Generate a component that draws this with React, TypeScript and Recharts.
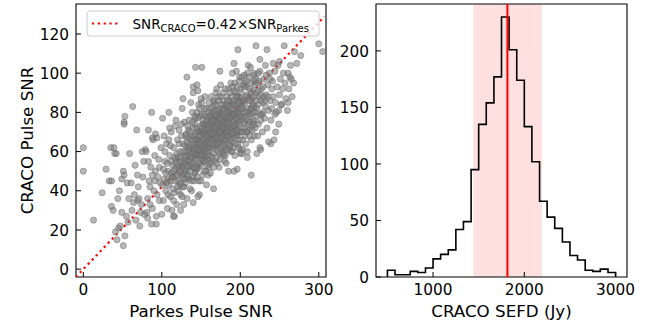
import React from "react";
import {
    ComposedChart,
    Scatter,
    Line,
    XAxis,
    YAxis,
    ReferenceArea,
    ReferenceLine
} from "recharts";

const FONT = "'DejaVu Sans', sans-serif";

// Parkes SNR vs CRACO SNR
const pulsePairs: [number, number][] = [
    // sparse low end
    [0, 62], [0, 50], [13, 25], [24, 39], [29, 51], [33, 45], [36, 45], [35, 62], [39, 62], [40, 59],
    [42, 59], [36, 32], [38, 30], [44, 36], [41, 19], [45, 21], [43, 15], [51, 12], [49, 46], [51, 50],
    [52, 48], [53, 78], [52, 75], [52, 74], [58, 36], [59, 59], [47, 22], [55, 27], [46, 40], [57, 24],
    [49, 29], [56, 44], [53, 17],
    // 60-80
    [63, 83], [68, 71], [62, 30], [65, 38], [67, 25], [69, 35], [70, 42], [72, 22], [74, 33], [76, 47],
    [78, 28], [61, 44], [66, 53], [71, 36], [77, 55], [79, 61], [73, 29], [69, 48], [75, 60], [64, 34],
    // 80-100
    [87, 80], [87, 23], [83, 71], [82, 26], [88, 67], [92, 69], [93, 23], [82, 36], [84, 45], [86, 52],
    [88, 31], [90, 40], [91, 58], [93, 27], [95, 47], [97, 35], [99, 62], [81, 29], [83, 55], [85, 42],
    [89, 66], [92, 50], [94, 38], [96, 56], [98, 44], [100, 28], [85, 33], [91, 45], [97, 52], [80, 60],
    [94, 67], [88, 48],
    // 100-120
    [101, 77], [109, 80], [118, 76], [116, 27], [115, 27], [102, 35], [103, 46], [104, 55], [105, 40], [106, 64],
    [107, 31], [108, 50], [109, 43], [110, 58], [111, 37], [112, 70], [113, 47], [114, 53], [115, 62], [116, 39],
    [117, 45], [118, 56], [119, 33], [120, 66], [102, 51], [104, 60], [106, 44], [108, 38], [110, 72], [112, 49],
    [114, 41], [116, 57], [118, 48], [120, 42], [103, 68], [107, 54], [111, 63], [115, 35], [119, 59], [105, 49],
    [109, 66], [113, 30], [117, 73], [101, 43],
    // 120-140
    [124, 30], [132, 98], [127, 87], [140, 34], [140, 93], [140, 90], [121, 45], [122, 52], [123, 60], [124, 38],
    [125, 68], [126, 48], [127, 55], [128, 42], [129, 75], [130, 63], [131, 50], [132, 36], [133, 58], [134, 71],
    [135, 46], [136, 66], [137, 53], [138, 40], [139, 80], [140, 61], [121, 57], [122, 71], [123, 43], [125, 52],
    [126, 37], [127, 64], [128, 49], [129, 58], [130, 44], [131, 69], [132, 55], [133, 47], [134, 61], [135, 76],
    [136, 41], [137, 59], [138, 68], [139, 52], [140, 47], [122, 64], [124, 49], [126, 82], [128, 33], [130, 55],
    [132, 65], [134, 52], [136, 58], [138, 45], [140, 72], [123, 55], [127, 46], [131, 60], [135, 63], [139, 57],
    [125, 74], [129, 51], [133, 67], [137, 85],
    // 140-160
    [143, 103], [145, 94], [151, 103], [148, 38], [146, 37], [141, 55], [142, 63], [143, 50], [144, 72], [145, 58],
    [146, 66], [147, 45], [148, 78], [149, 61], [150, 53], [151, 70], [152, 48], [153, 64], [154, 82], [155, 57],
    [156, 68], [157, 43], [158, 75], [159, 60], [160, 52], [141, 68], [142, 49], [143, 77], [144, 59], [145, 66],
    [146, 52], [147, 84], [148, 62], [149, 70], [150, 45], [151, 58], [152, 74], [153, 55], [154, 67], [155, 88],
    [156, 50], [157, 63], [158, 71], [159, 56], [160, 80], [141, 61], [143, 66], [145, 51], [147, 70], [149, 55],
    [151, 79], [153, 60], [155, 72], [157, 65], [159, 48], [142, 74], [144, 64], [146, 77], [148, 54], [150, 68],
    [152, 62], [154, 57], [156, 74], [158, 64], [160, 69], [141, 45], [144, 52], [147, 60], [150, 87], [153, 70],
    [156, 61], [159, 67], [143, 58], [146, 91], [149, 64], [152, 56], [155, 64], [158, 58],
    // 160-180
    [166, 41], [161, 62], [162, 75], [163, 55], [164, 68], [165, 83], [166, 59], [167, 72], [168, 64], [169, 90],
    [170, 57], [171, 77], [172, 69], [173, 52], [174, 80], [175, 65], [176, 73], [177, 60], [178, 86], [179, 70],
    [180, 62], [161, 71], [162, 58], [163, 79], [164, 63], [165, 74], [166, 67], [167, 55], [168, 81], [169, 70],
    [170, 75], [171, 63], [172, 88], [173, 72], [174, 59], [175, 77], [176, 68], [177, 82], [178, 65], [179, 76],
    [180, 71], [161, 54], [163, 66], [165, 62], [167, 78], [169, 61], [171, 70], [173, 65], [175, 94], [177, 73],
    [179, 58], [162, 82], [164, 72], [166, 76], [168, 69], [170, 66], [172, 60], [174, 74], [176, 79], [178, 72],
    [180, 84], [161, 67], [164, 57], [167, 85], [170, 92], [173, 79], [176, 62], [179, 66], [163, 73], [168, 75],
    [172, 78], [177, 67], [180, 55], [174, 101], [185, 50],
    // 180-200
    [192, 105], [197, 112], [196, 51], [192, 50], [181, 76], [182, 66], [183, 88], [184, 73], [185, 61], [186, 80],
    [187, 70], [188, 95], [189, 77], [190, 65], [191, 84], [192, 72], [193, 58], [194, 90], [195, 79], [196, 68],
    [197, 86], [198, 75], [199, 98], [200, 70], [181, 69], [182, 83], [183, 75], [184, 64], [185, 92], [186, 71],
    [187, 79], [188, 67], [189, 85], [190, 74], [191, 62], [192, 91], [193, 80], [194, 72], [195, 68], [196, 88],
    [197, 76], [198, 82], [199, 66], [200, 87], [181, 58], [183, 70], [185, 78], [187, 63], [189, 72], [191, 78],
    [193, 69], [195, 101], [197, 64], [199, 79], [182, 74], [184, 81], [186, 86], [188, 60], [190, 81], [192, 67],
    [194, 77], [196, 82], [198, 70], [200, 92], [185, 68], [190, 100], [195, 74], [182, 54], [200, 59], [200, 61],
    // 200-220
    [214, 48], [209, 57], [202, 59], [220, 114], [201, 78], [202, 85], [203, 72], [204, 94], [205, 80], [206, 68],
    [207, 88], [208, 76], [209, 100], [210, 82], [211, 71], [212, 92], [213, 79], [214, 66], [215, 87], [216, 75],
    [217, 96], [218, 83], [219, 72], [220, 90], [201, 90], [202, 70], [203, 82], [204, 77], [205, 99], [206, 85],
    [207, 64], [208, 93], [209, 79], [210, 74], [211, 88], [212, 81], [213, 103], [214, 86], [215, 73], [216, 91],
    [217, 80], [218, 68], [219, 94], [220, 78], [203, 61], [206, 95], [209, 60], [212, 75], [215, 83], [218, 99],
    [204, 86], [208, 70], [216, 84], [210, 104],
    // 220-240
    [226, 61], [225, 62], [234, 112], [221, 82], [222, 95], [223, 74], [224, 88], [225, 101], [226, 79], [227, 92],
    [228, 70], [229, 85], [230, 97], [231, 77], [232, 104], [233, 89], [234, 72], [235, 94], [236, 81], [237, 100],
    [238, 86], [239, 76], [240, 92], [222, 68], [224, 96], [226, 86], [228, 79], [230, 88], [232, 83], [236, 65],
    [238, 97], [240, 82], [225, 107], [233, 99], [221, 59],
    // 240-260
    [243, 66], [245, 70], [249, 74], [244, 79], [249, 81], [253, 84], [256, 114], [241, 96], [242, 88], [244, 101],
    [245, 85], [247, 93], [248, 104], [250, 89], [251, 97], [252, 84], [254, 92], [255, 100], [257, 95], [258, 87],
    [242, 105], [246, 80], [250, 106], [239, 64], [260, 81],
    // sparse high end
    [261, 100], [265, 97], [268, 95], [272, 105], [269, 111], [277, 109], [300, 115], [305, 111], [262, 92],
    [264, 104], [266, 88], [263, 98], [261, 85],
    // dense core (overplotted region)
    [150, 65], [152, 67], [155, 69], [157, 71], [160, 66], [162, 70], [165, 72], [167, 68], [170, 73], [172, 71],
    [175, 74], [177, 76], [180, 74], [182, 77], [185, 75], [187, 78], [190, 76], [192, 79], [195, 77], [197, 80],
    [200, 78], [175, 70], [178, 68], [181, 72], [184, 70], [186, 74], [189, 69], [191, 73], [194, 71], [171, 67],
    [168, 63], [164, 66], [161, 64], [158, 62], [154, 61], [151, 63], [147, 64], [144, 62], [141, 59], [138, 57],
    [135, 55], [132, 53], [129, 54], [126, 52], [123, 50], [120, 48], [117, 51], [114, 47], [111, 45], [108, 46],
    [146, 70], [149, 73], [153, 76], [156, 78], [159, 74], [163, 77], [166, 80], [169, 78], [173, 82], [176, 84],
    [179, 81], [183, 84], [186, 83], [189, 88], [192, 86], [195, 84], [198, 88], [202, 83], [205, 86], [208, 89],
    [211, 86], [214, 90], [217, 88], [220, 86], [223, 91], [226, 89], [229, 93], [205, 75], [208, 80], [211, 78],
    [214, 82], [217, 76], [220, 80], [223, 84], [226, 76], [229, 80], [232, 86], [235, 88], [203, 66], [206, 72],
    [209, 70], [212, 68], [215, 71], [218, 74], [154, 50], [158, 53], [162, 49], [166, 52], [170, 54], [174, 56],
    [178, 59], [182, 61], [186, 63], [190, 60], [194, 64], [198, 62], [137, 62], [140, 66], [143, 69], [146, 58],
    [149, 60], [152, 58], [155, 55], [158, 60], [133, 62], [130, 58], [127, 60], [124, 57], [121, 53], [118, 54],
    [115, 50], [112, 55], [130, 68], [133, 73], [136, 70], [139, 75], [142, 78], [145, 80], [148, 82], [151, 85],
    [154, 79], [157, 82], [160, 85], [163, 88], [166, 86], [169, 84], [172, 86], [175, 88], [178, 90], [181, 92],
    [184, 86], [187, 90], [190, 93], [193, 95], [196, 93], [199, 96], [202, 98], [205, 93], [208, 96], [211, 98],
    [214, 95], [217, 100], [220, 97], [223, 100], [168, 72], [171, 74], [174, 70], [177, 72], [180, 78], [183, 80],
    [186, 77], [189, 82], [192, 84], [195, 88], [198, 85], [201, 82], [157, 68], [160, 72], [163, 69], [166, 64],
    [169, 67], [172, 64], [175, 67], [178, 63], [181, 66], [184, 68], [187, 66], [190, 70], [193, 73], [196, 71],
    [199, 74], [202, 76], [162, 78], [165, 76], [168, 79], [171, 81], [174, 77], [177, 79], [180, 80], [148, 68],
    [151, 72], [154, 74], [157, 76], [160, 78], [140, 64], [143, 56], [146, 61], [149, 58], [136, 50], [133, 48],
    [139, 54], [142, 52], [145, 47], [127, 42], [130, 46], [124, 44], [121, 40]
];

// dotted fit line SNR_CRACO = 0.42 x SNR_Parkes, end points
const fitLine = [
    { x: -9.5, y: -4.0 },
    { x: 307, y: 128.9 }
];

const snrXTicks = [0, 100, 200, 300];
const snrYTicks = [0, 20, 40, 60, 80, 100, 120];

// CRACO SEFD histogram (30 bins, 500-3000 Jy)
const sefdBinEdges = [
    500, 583, 667, 750, 833, 917, 1000, 1083, 1167, 1250, 1333, 1417, 1500, 1583, 1667, 1750,
    1833, 1917, 2000, 2083, 2167, 2250, 2333, 2417, 2500, 2583, 2667, 2750, 2833, 2917, 3000
];
const sefdCounts = [
    6, 2, 2, 5, 4, 8, 16, 20, 24, 42, 49, 95, 135, 154, 177, 230,
    201, 174, 133, 102, 67, 53, 43, 31, 19, 15, 6, 5, 7, 4
];
const sefdMedian = 1815;
const sefdBand = [1440, 2194];
const sefdXTicks = [1000, 2000, 3000];
const sefdYTicks = [0, 50, 100, 150, 200];

const scatterData = pulsePairs.map(([x, y]) => ({ x, y }));

// step outline like matplotlib histtype="step"
const stepData = [
    { x: sefdBinEdges[0], y: 0 },
    ...sefdCounts.map((c, i) => ({ x: sefdBinEdges[i], y: c })),
    { x: sefdBinEdges[sefdBinEdges.length - 1], y: sefdCounts[sefdCounts.length - 1] },
    { x: sefdBinEdges[sefdBinEdges.length - 1], y: 0 }
];

const XTick = ({ x, y, payload }: any) => (
    <g>
        <line x1={x} y1={y} x2={x} y2={y - 5} stroke="#000" strokeWidth={1} />
        <text x={x} y={y + 17.5} textAnchor="middle" fontSize={15.3} fontFamily={FONT} fill="#000">
            {payload.value}
        </text>
    </g>
);

const YTick = ({ x, y, payload }: any) => (
    <g>
        <line x1={x} y1={y} x2={x + 5} y2={y} stroke="#000" strokeWidth={1} />
        <text x={x - 7} y={y + 5.6} textAnchor="end" fontSize={15.3} fontFamily={FONT} fill="#000">
            {payload.value}
        </text>
    </g>
);

const GrayDot = (props: any) => (
    <circle
        cx={props.cx}
        cy={props.cy}
        r={3.1}
        fill="#7a7a7a"
        fillOpacity={0.55}
        stroke="#666666"
        strokeOpacity={0.55}
        strokeWidth={0.8}
    />
);

const SNR_X = [-9.3, 309.2];
const SNR_Y = [-4, 135.3];
const SEFD_X = [375, 3125];
const SEFD_Y = [0, 241.5];

export default function App() {
    return (
        <div style={{ position: "absolute", left: 0, top: 0, width: 650, height: 326, background: "#fff" }}>
            {/* left: SNR comparison */}
            <div style={{ position: "absolute", left: 0, top: 0 }}>
                <ComposedChart width={340} height={326} margin={{ top: 4, right: 14, bottom: 0, left: 0 }}>
                    <XAxis
                        type="number"
                        dataKey="x"
                        domain={SNR_X}
                        ticks={snrXTicks}
                        allowDataOverflow
                        height={49}
                        tickSize={0}
                        tickMargin={0}
                        axisLine={false}
                        tickLine={false}
                        tick={<XTick />}
                        interval={0}
                    />
                    <YAxis
                        type="number"
                        dataKey="y"
                        domain={SNR_Y}
                        ticks={snrYTicks}
                        allowDataOverflow
                        width={76}
                        tickSize={0}
                        tickMargin={0}
                        axisLine={false}
                        tickLine={false}
                        tick={<YTick />}
                        interval={0}
                    />
                    <Scatter data={scatterData} shape={<GrayDot />} isAnimationActive={false} />
                    <Line
                        data={fitLine}
                        dataKey="y"
                        type="linear"
                        stroke="#ff0000"
                        strokeWidth={2.2}
                        strokeDasharray="2.2 3.6"
                        dot={false}
                        activeDot={false}
                        isAnimationActive={false}
                    />
                    <ReferenceArea
                        x1={SNR_X[0]}
                        x2={SNR_X[1]}
                        y1={SNR_Y[0]}
                        y2={SNR_Y[1]}
                        fill="none"
                        fillOpacity={0}
                        stroke="#000"
                        strokeWidth={1.1}
                        ifOverflow="visible"
                    />
                </ComposedChart>
            </div>

            {/* right: SEFD histogram */}
            <div style={{ position: "absolute", left: 330, top: 0 }}>
                <ComposedChart width={320} height={326} margin={{ top: 4, right: 23, bottom: 0, left: 0 }}>
                    <XAxis
                        type="number"
                        dataKey="x"
                        domain={SEFD_X}
                        ticks={sefdXTicks}
                        allowDataOverflow
                        height={49}
                        tickSize={0}
                        tickMargin={0}
                        axisLine={false}
                        tickLine={false}
                        tick={<XTick />}
                        interval={0}
                    />
                    <YAxis
                        type="number"
                        dataKey="y"
                        domain={SEFD_Y}
                        ticks={sefdYTicks}
                        allowDataOverflow
                        width={46}
                        tickSize={0}
                        tickMargin={0}
                        axisLine={false}
                        tickLine={false}
                        tick={<YTick />}
                        interval={0}
                    />
                    <ReferenceArea
                        x1={sefdBand[0]}
                        x2={sefdBand[1]}
                        fill="#ff0000"
                        fillOpacity={0.12}
                        stroke="none"
                    />
                    <Line
                        data={stepData}
                        dataKey="y"
                        type="stepAfter"
                        stroke="#000"
                        strokeWidth={1.6}
                        dot={false}
                        activeDot={false}
                        isAnimationActive={false}
                    />
                    <ReferenceLine x={sefdMedian} stroke="#ff0000" strokeWidth={2} />
                    <ReferenceArea
                        x1={SEFD_X[0]}
                        x2={SEFD_X[1]}
                        y1={SEFD_Y[0]}
                        y2={SEFD_Y[1]}
                        fill="none"
                        fillOpacity={0}
                        stroke="#000"
                        strokeWidth={1.1}
                        ifOverflow="visible"
                    />
                </ComposedChart>
            </div>

            {/* axis titles and legend */}
            <svg
                width={650}
                height={326}
                style={{ position: "absolute", left: 0, top: 0, pointerEvents: "none" }}
                fontFamily={FONT}
            >
                <text x={201} y={317} textAnchor="middle" fontSize={16.7} fill="#000">Parkes Pulse SNR</text>
                <text
                    x={33}
                    y={140.5}
                    textAnchor="middle"
                    fontSize={16.7}
                    fill="#000"
                    transform="rotate(-90 33 140.5)"
                >
                    CRACO Pulse SNR
                </text>
                <text x={501.5} y={317} textAnchor="middle" fontSize={16.7} fill="#000">CRACO SEFD (Jy)</text>

                <rect x={87} y={11} width={232} height={25} rx={3} fill="#fff" fillOpacity={0.8} stroke="#cccccc" strokeWidth={1} />
                <line x1={92} y1={23.5} x2={120} y2={23.5} stroke="#ff0000" strokeWidth={2.2} strokeDasharray="2.2 3.6" />
                <text x={132.5} y={28.5} fontSize={13.5} fill="#000">
                    SNR
                    <tspan fontSize={10} dy={3}>CRACO</tspan>
                    <tspan dy={-3}>=0.42×SNR</tspan>
                    <tspan fontSize={10} dy={3}>Parkes</tspan>
                </text>
            </svg>
        </div>
    );
}
